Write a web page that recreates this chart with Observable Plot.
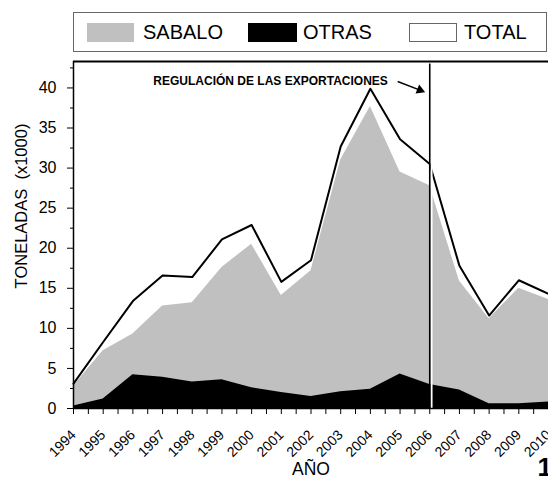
<!DOCTYPE html>
<html>
<head>
<meta charset="utf-8">
<script src="https://cdn.jsdelivr.net/npm/d3@7"></script>
<script src="https://cdn.jsdelivr.net/npm/@observablehq/plot@0.6"></script>
<style>
  html, body { margin: 0; padding: 0; background: white; }
  #wrap { position: relative; width: 548px; height: 478px; overflow: hidden; font-family: "Liberation Sans", Arial, sans-serif; }
  #legend { position: absolute; left: 73px; top: 12px; width: 474px; height: 40px; box-sizing: border-box; border: 1px solid #666; background: white; }
  .sw { position: absolute; top: 10px; height: 19px; box-sizing: border-box; }
  .lt { position: absolute; top: 8px; font-size: 20px; line-height: 22px; color: black; }
  #chart { position: absolute; left: 0; top: 60px; }
</style>
</head>
<body>
<div id="wrap">
  <div id="legend"></div>
  <div id="chart"></div>
</div>
<script>
// ---- data ----
const years  = [1994, 1995, 1996, 1997, 1998, 1999, 2000, 2001, 2002, 2003, 2004, 2005, 2006, 2007, 2008, 2009, 2010];
const sabalo = [2.8, 7.2, 9.3, 12.8, 13.2, 17.6, 20.5, 14.1, 17.2, 31.0, 37.7, 29.5, 27.8, 15.9, 11.2, 15.0, 13.6];
const otras  = [0.3, 1.2, 4.2, 3.9, 3.3, 3.6, 2.6, 2.0, 1.5, 2.1, 2.4, 4.3, 3.0, 2.3, 0.6, 0.6, 0.8];
const total  = [3.1, 8.3, 13.4, 16.6, 16.4, 21.1, 22.9, 15.8, 18.5, 32.7, 39.9, 33.6, 30.5, 17.8, 11.6, 16.0, 14.3];

const yTicks      = [0, 5, 10, 15, 20, 25, 30, 35, 40];
const yMinorTicks = [2.5, 7.5, 12.5, 17.5, 22.5, 27.5, 32.5, 37.5, 42.5];
const xMinorTicks = [1994.5, 1995.5, 1996.5, 1997.5, 1998.5, 1999.5, 2000.5, 2001.5, 2002.5, 2003.5, 2004.5, 2005.5, 2006.5, 2007.5, 2008.5, 2009.5];

const legendLabels = ["SABALO", "OTRAS", "TOTAL"];
const legendColors = ["#c0c0c0", "#000000", "#ffffff"];

const xLabel = "AÑO";
const yLabel = "TONELADAS\u00a0\u00a0(x1000)";
const panelLabel = "1";
const regulationYear = [2006];
const annotationText = ["REGULACIÓN DE LAS EXPORTACIONES"];
const annotationPos = [{x: 1996.69, y: 40.4}];
const arrowShaft = [{x1: 2004.92, y1: 40.8, x2: 2005.67, y2: 39.73}];
const arrowHead = [{x: 2005.67, y: 39.73}];

const yMax = 43.3;

// ---- legend ----
const legend = document.getElementById("legend");
const swLeft = [13, 174, 335];
const txLeft = [69, 229, 390];
const swWidth = [47, 49, 48];
legendLabels.forEach((lab, i) => {
  const s = document.createElement("div");
  s.className = "sw";
  s.style.left = swLeft[i] + "px";
  s.style.width = swWidth[i] + "px";
  s.style.background = legendColors[i];
  if (i === 2) s.style.border = "1px solid #666";
  legend.appendChild(s);
  const t = document.createElement("div");
  t.className = "lt";
  t.style.left = txLeft[i] + "px";
  t.textContent = lab;
  legend.appendChild(t);
});

// ---- chart ----
const data = years.map((year, i) => ({year, sabalo: sabalo[i], otras: otras[i], total: total[i]}));

const chart = Plot.plot({
  width: 548,
  height: 418,
  marginLeft: 73,
  marginRight: 0,
  marginTop: 1,
  marginBottom: 70,
  style: {fontFamily: "'Liberation Sans', Arial, sans-serif", background: "white", color: "black"},
  x: {domain: [1994, 2010]},
  y: {domain: [0, yMax]},
  marks: [
    Plot.areaY(data, {x: "year", y: "sabalo", fill: "#c0c0c0"}),
    Plot.areaY(data, {x: "year", y: "otras", fill: "#000000"}),
    Plot.lineY(data, {x: "year", y: "total", stroke: "#000000", strokeWidth: 2}),
    Plot.ruleX(regulationYear, {y1: 0, y2: 43, stroke: "white", strokeWidth: 2, dx: 1.8}),
    Plot.ruleX(regulationYear, {y1: 0, y2: 43, stroke: "black", strokeWidth: 1.6}),
    Plot.text(annotationText, {x: annotationPos[0].x, y: annotationPos[0].y, textAnchor: "start", lineAnchor: "bottom", fontWeight: "bold", fontSize: 12}),
    Plot.link(arrowShaft, {x1: "x1", y1: "y1", x2: "x2", y2: "y2", stroke: "black", strokeWidth: 1.5}),
    Plot.dot(arrowHead, {x: "x", y: "y", symbol: "triangle", r: 3.6, fill: "black", stroke: "none", rotate: 112}),
    // frame lines
    Plot.ruleY([0], {stroke: "black", strokeWidth: 1.5}),
    Plot.ruleY([yMax], {stroke: "black", strokeWidth: 2}),
    Plot.ruleX([1994], {stroke: "black", strokeWidth: 1.5}),
    // axes
    Plot.axisY({ticks: yTicks, tickSize: 6, tickPadding: 11, fontSize: 16, label: null, tickFormat: d => String(d)}),
    Plot.axisY({ticks: yMinorTicks, tickSize: 3, label: null, tickFormat: () => ""}),
    Plot.axisX({ticks: years, tickSize: 6, label: null, tickFormat: () => ""}),
    Plot.axisX({ticks: xMinorTicks, tickSize: 6, label: null, tickFormat: () => ""}),
    Plot.axisX({ticks: years, tickSize: 0, tickRotate: -45, fontSize: 14, tickPadding: 17, dy: 7, label: null, tickFormat: d => String(d)}),
    Plot.text([yLabel], {frameAnchor: "left", dx: -52, dy: -29, rotate: -90, textAnchor: "middle", fontSize: 16.5}),
    Plot.text([xLabel], {frameAnchor: "bottom", dy: 54, lineAnchor: "top", fontSize: 17.5}),
    Plot.text([panelLabel], {frameAnchor: "bottom-right", dx: -11, dy: 49, textAnchor: "start", lineAnchor: "top", fontSize: 26, fontWeight: "bold"})
  ]
});
document.getElementById("chart").appendChild(chart);
</script>
</body>
</html>
